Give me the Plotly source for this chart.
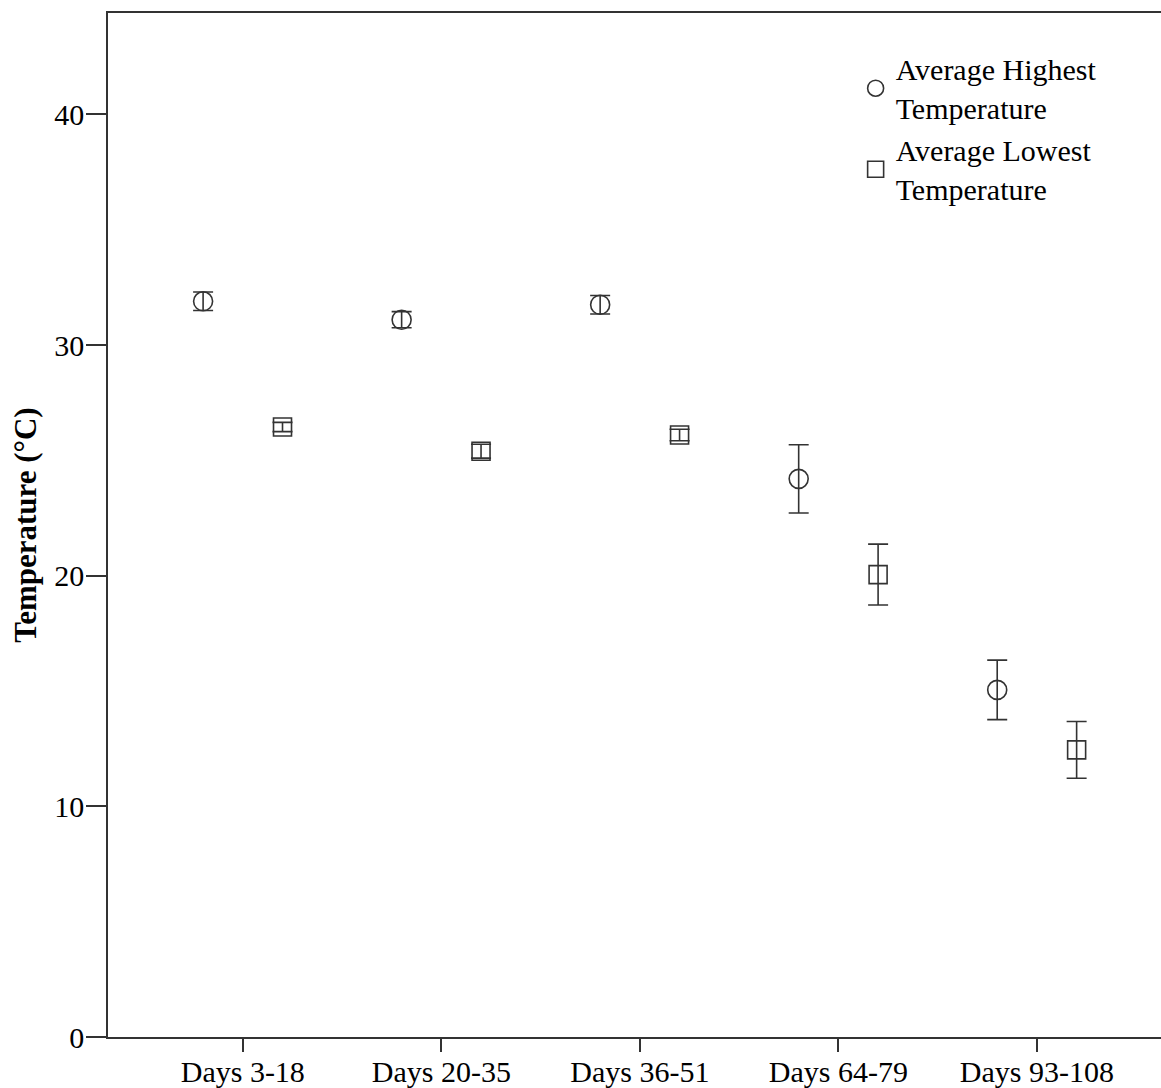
import plotly.graph_objects as go

categories = ["Days 3-18", "Days 20-35", "Days 36-51", "Days 64-79", "Days 93-108"]
avg_high = [31.9, 31.1, 31.75, 24.2, 15.05]
avg_high_err = [0.4, 0.35, 0.4, 1.48, 1.29]
avg_low = [26.45, 25.4, 26.1, 20.05, 12.45]
avg_low_err = [0.2, 0.3, 0.25, 1.32, 1.23]
y_ticks = [0, 10, 20, 30, 40]

idx = list(range(len(categories)))
dodge = 0.2
ink = "#333333"
font = "Liberation Serif"

fig = go.Figure()
fig.add_trace(go.Scatter(
    x=[i - dodge for i in idx], y=avg_high, mode="markers",
    name="Average Highest<br>Temperature",
    marker=dict(symbol="circle-open", size=19, color=ink, line=dict(width=1.6, color=ink)),
    error_y=dict(type="data", array=avg_high_err, symmetric=True, color=ink, thickness=1.6, width=10),
))
fig.add_trace(go.Scatter(
    x=[i + dodge for i in idx], y=avg_low, mode="markers",
    name="Average Lowest<br>Temperature",
    marker=dict(symbol="square-open", size=18, color=ink, line=dict(width=1.6, color=ink)),
    error_y=dict(type="data", array=avg_low_err, symmetric=True, color=ink, thickness=1.6, width=10),
))

fig.update_layout(
    width=1161, height=1088,
    margin=dict(l=108, r=0, t=13, b=51),
    paper_bgcolor="white", plot_bgcolor="white",
    font=dict(family=font, size=30, color="black"),
    showlegend=True,
    legend=dict(x=0.71, y=0.971, xanchor="left", yanchor="top",
                font=dict(family=font, size=30, color="black"),
                bgcolor="rgba(0,0,0,0)", tracegroupgap=0, itemsizing="trace"),
    xaxis=dict(range=[-0.679, 4.625], tickmode="array", tickvals=idx, ticktext=categories,
               automargin=False,
               showgrid=False, zeroline=False, showline=True, linecolor=ink, linewidth=1.6,
               mirror=True, ticks="outside", ticklen=13, tickwidth=1.6, tickcolor=ink,
               ticklabelstandoff=-6,
               tickfont=dict(family=font, size=30, color="black")),
    yaxis=dict(range=[0, 44.4], tickmode="array", tickvals=y_ticks,
               automargin=False,
               showgrid=False, zeroline=False, showline=True, linecolor=ink, linewidth=1.6,
               ticks="outside", ticklen=20, tickwidth=1.6, tickcolor=ink,
               ticklabelstandoff=-4,
               tickfont=dict(family=font, size=30, color="black"),
               title=dict(text="<b>Temperature (°C)</b>", standoff=8,
                          font=dict(family=font, size=31, color="black"))),
)

fig.write_html("out.html")
